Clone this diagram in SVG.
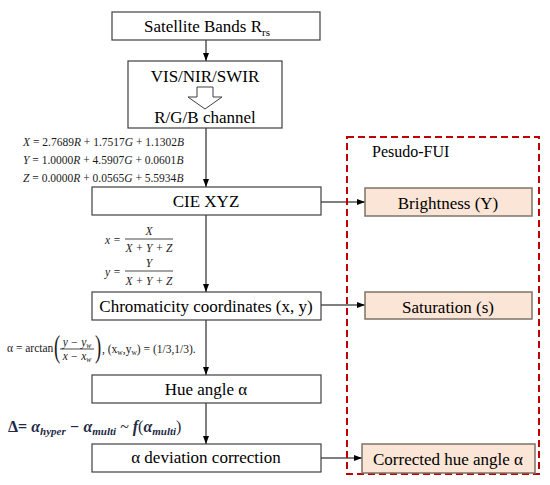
<svg xmlns="http://www.w3.org/2000/svg" width="550" height="485" viewBox="0 0 550 485">
<defs>
<marker id="ah" viewBox="0 0 8 6" refX="8" refY="3" markerWidth="8" markerHeight="6" markerUnits="userSpaceOnUse" orient="auto">
<path d="M0,0 L8,3 L0,6 Z" fill="#000"/>
</marker>
</defs>
<style>
text{font-family:'Liberation Serif','Times New Roman','DejaVu Serif',serif}
.box{fill:#fff;stroke:#404040;stroke-width:1.2}
.pbox{fill:#fbe5d6;stroke:#7f7267;stroke-width:1.5}
.lbl{font-size:17px;fill:#000;text-anchor:middle}
.eq{font-size:11.5px;fill:#1a1a1a}
.it{font-style:italic}
.con{stroke:#000;stroke-width:1;fill:none;marker-end:url(#ah)}
.dl{font-size:16px;font-weight:bold;font-style:italic;fill:#1f2a44}
</style>
<rect width="550" height="485" fill="#fff"/>

<g id="connectors">
<line class="con" x1="206" y1="40" x2="206" y2="61"/>
<line class="con" x1="206" y1="128" x2="206" y2="187"/>
<line class="con" x1="206" y1="215" x2="206" y2="292"/>
<line class="con" x1="206" y1="320" x2="206" y2="375"/>
<line class="con" x1="206" y1="403" x2="206" y2="444"/>
<line class="con" x1="321" y1="202" x2="365" y2="202"/>
<line class="con" x1="321" y1="305" x2="365" y2="305"/>
<line class="con" x1="321" y1="458" x2="362" y2="458"/>
</g>

<g id="pesudo-fui">
<rect x="347" y="137" width="192" height="337" fill="none" stroke="#c00000" stroke-width="2" stroke-dasharray="7,4"/>
<text x="372" y="157" font-size="16" fill="#000">Pesudo-FUI</text>
</g>

<g id="satellite">
<rect class="box" x="112" y="12" width="208" height="28"/>
<text class="lbl" x="207" y="32">Satellite Bands R<tspan font-size="11" dy="4">rs</tspan></text>
</g>

<g id="vis">
<rect class="box" x="128" y="61" width="154" height="67"/>
<text class="lbl" x="205" y="82">VIS/NIR/SWIR</text>
<path d="M197,87 L213,87 L213,97 L222,97 L205,109 L188,97 L197,97 Z" fill="#fff" stroke="#404040" stroke-width="1"/>
<text class="lbl" x="205" y="123">R/G/B channel</text>
</g>

<g id="eq-xyz">
<text class="eq" x="23" y="146"><tspan class="it">X</tspan> = 2.7689<tspan class="it">R</tspan> + 1.7517<tspan class="it">G</tspan> + 1.1302<tspan class="it">B</tspan></text>
<text class="eq" x="23" y="164"><tspan class="it">Y</tspan> = 1.0000<tspan class="it">R</tspan> + 4.5907<tspan class="it">G</tspan> + 0.0601<tspan class="it">B</tspan></text>
<text class="eq" x="23" y="182"><tspan class="it">Z</tspan> = 0.0000<tspan class="it">R</tspan> + 0.0565<tspan class="it">G</tspan> + 5.5934<tspan class="it">B</tspan></text>
</g>

<g id="cie">
<rect class="box" x="92" y="187" width="229" height="28"/>
<text class="lbl" x="206" y="207">CIE XYZ</text>
</g>

<g id="eq-xy">
<text class="eq it" x="105" y="244">x =</text>
<text class="eq it" x="149" y="235" text-anchor="middle">X</text>
<line x1="125" y1="239" x2="173" y2="239" stroke="#1a1a1a" stroke-width="0.8"/>
<text class="eq it" x="149" y="252" text-anchor="middle">X + Y + Z</text>
<text class="eq it" x="105" y="276">y =</text>
<text class="eq it" x="149" y="267" text-anchor="middle">Y</text>
<line x1="125" y1="271" x2="173" y2="271" stroke="#1a1a1a" stroke-width="0.8"/>
<text class="eq it" x="149" y="285" text-anchor="middle">X + Y + Z</text>
</g>

<g id="chroma">
<rect class="box" x="92" y="292" width="229" height="28"/>
<text class="lbl" x="206" y="312">Chromaticity coordinates (x, y)</text>
</g>

<g id="eq-alpha">
<text class="eq" x="7" y="352" font-size="10.5">α = arctan</text>
<text x="54" y="357" font-size="31" fill="#1a1a1a" transform="translate(54,357) scale(0.6,1) translate(-54,-357)">(</text>
<text class="eq it" x="77" y="346" text-anchor="middle" font-size="11">y − y<tspan font-size="7.5" dy="2">w</tspan></text>
<line x1="60" y1="349" x2="94" y2="349" stroke="#1a1a1a" stroke-width="0.8"/>
<text class="eq it" x="77" y="360" text-anchor="middle" font-size="11">x − x<tspan font-size="7.5" dy="2">w</tspan></text>
<text x="95" y="357" font-size="31" fill="#1a1a1a" transform="translate(95,357) scale(0.6,1) translate(-95,-357)">)</text>
<text class="eq" x="102" y="353" font-size="11">, (x<tspan font-size="7.5" dy="2">w</tspan><tspan dy="-2">,y</tspan><tspan font-size="7.5" dy="2">w</tspan><tspan dy="-2">) = (1/3,1/3).</tspan></text>
</g>

<g id="hue">
<rect class="box" x="92" y="375" width="229" height="28"/>
<text class="lbl" x="206" y="395">Hue angle α</text>
</g>

<g id="eq-delta">
<text class="dl" x="8" y="432"><tspan font-style="normal">Δ=</tspan> α<tspan font-size="11" dy="3">hyper</tspan><tspan dy="-3"> − α</tspan><tspan font-size="11" dy="3">multi</tspan><tspan dy="-3" font-weight="normal"> ~ </tspan><tspan>f</tspan><tspan font-style="normal" font-weight="normal">(</tspan><tspan>α</tspan><tspan font-size="11" dy="3">multi</tspan><tspan dy="-3" font-style="normal" font-weight="normal">)</tspan></text>
</g>

<g id="deviation">
<rect class="box" x="92" y="444" width="229" height="28"/>
<text class="lbl" x="206" y="463">α deviation correction</text>
</g>

<g id="brightness">
<rect class="pbox" x="365" y="188" width="167" height="28"/>
<text class="lbl" x="448" y="209">Brightness (Y)</text>
</g>

<g id="saturation">
<rect class="pbox" x="365" y="292" width="167" height="27"/>
<text class="lbl" x="448" y="313">Saturation (s)</text>
</g>

<g id="corrected">
<rect class="pbox" x="362" y="444" width="173" height="29"/>
<text class="lbl" x="448" y="465">Corrected hue angle α</text>
</g>
</svg>
